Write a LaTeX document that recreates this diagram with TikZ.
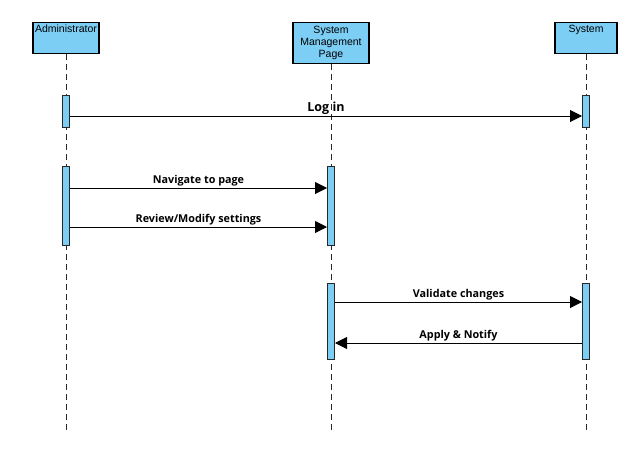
\documentclass[tikz,border=0pt]{standalone}
\usepackage{fontspec}
\setmainfont{Liberation Sans}
\newfontfamily\msgfont{Open Sans}
\usetikzlibrary{arrows.meta,positioning}
\definecolor{lifeblue}{RGB}{125,206,245}
\definecolor{edgegrey}{RGB}{40,40,40}
\tikzstyle{headbox}=[rectangle,draw=black,line width=1.2pt,fill=lifeblue,anchor=north,
                    inner sep=1.5pt,align=center,font=\fontsize{10.5}{12}\selectfont]
\tikzstyle{actbar}=[rectangle,draw=edgegrey,line width=1pt,fill=lifeblue,
                   minimum width=7pt,inner sep=0pt]
\tikzstyle{lifeline}=[draw=edgegrey,line width=1pt,dash pattern=on 6pt off 4pt]
\tikzstyle{msg}=[-{Triangle[length=12pt,width=12pt]},line width=1pt,draw=black]
\tikzstyle{msglabel}=[above,inner sep=1pt,font=\msgfont\bfseries\fontsize{10.8}{13}\selectfont]

\begin{document}
\begin{tikzpicture}[x=1pt,y=-1pt]
  \useasboundingbox (0,0) rectangle (640,450);
  % lifeline heads
  \node[headbox,minimum width=66pt,text height=8pt,text depth=20pt] (adm) at (66,22) {Administrator};
  \node[headbox,minimum width=76pt,minimum height=41pt] (smp) at (331,22) {System\\Management\\Page};
  \node[headbox,minimum width=62pt,text height=8pt,text depth=20pt] (sys) at (586,22) {System};
  \coordinate (bottom) at (0,432);

  \draw[lifeline] (adm.south) -- (adm.south |- bottom);
  \draw[lifeline] (smp.south) -- (smp.south |- bottom);
  \draw[lifeline] (sys.south) -- (sys.south |- bottom);

  % activation bars
  \node[actbar,minimum height=32pt] (a1) at (66,111) {};
  \node[actbar,minimum height=79pt] (a2) at (66,205.5) {};
  \node[actbar,minimum height=79pt] (p1) at (331,205.5) {};
  \node[actbar,minimum height=76pt] (p2) at (331,321) {};
  \node[actbar,minimum height=32pt] (s1) at (586,111) {};
  \node[actbar,minimum height=76pt] (s2) at (586,321) {};

  % messages
  \coordinate (m1) at (0,116);
  \coordinate (m2) at (0,188);
  \coordinate (m3) at (0,227);
  \coordinate (m4) at (0,302);
  \coordinate (m5) at (0,343);
  \draw[msg] (a1.east |- m1) -- node[msglabel,font=\msgfont\bfseries\fontsize{12.5}{14}\selectfont] {Log in} (s1.west |- m1);
  \draw[msg] (a2.east |- m2) -- node[msglabel] {Navigate to page} (p1.west |- m2);
  \draw[msg] (a2.east |- m3) -- node[msglabel] {Review/Modify settings} (p1.west |- m3);
  \draw[msg] (p2.east |- m4) -- node[msglabel] {Validate changes} (s2.west |- m4);
  \draw[msg] (s2.west |- m5) -- node[msglabel] {Apply \& Notify} (p2.east |- m5);
\end{tikzpicture}
\end{document}
